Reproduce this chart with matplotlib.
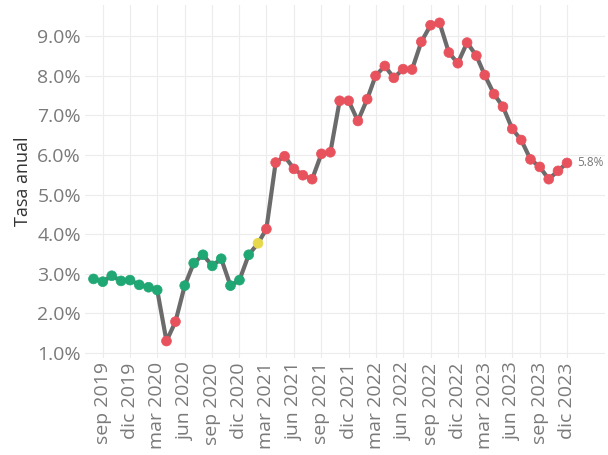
import matplotlib.pyplot as plt
import numpy as np
import pandas as pd

plt.rcParams["font.family"] = ["Open Sans", "DejaVu Sans"]

# monthly annual inflation, aug 2019 - dec 2023
months = pd.date_range("2019-08-01", "2023-12-01", freq="MS")
rate = [
    2.87, 2.80, 2.95, 2.82, 2.84,
    2.72, 2.66, 2.59, 1.30, 1.79, 2.70, 3.27, 3.48, 3.20, 3.38, 2.70, 2.84,
    3.48, 3.77, 4.13, 5.81, 5.97, 5.65, 5.49, 5.39, 6.03, 6.07, 7.37, 7.37,
    6.86, 7.41, 8.00, 8.25, 7.95, 8.17, 8.16, 8.86, 9.28, 9.34, 8.59, 8.32,
    8.84, 8.51, 8.02, 7.54, 7.22, 6.66, 6.38, 5.89, 5.70, 5.39, 5.60, 5.80,
]
# g = within target range, y = near upper limit, r = outside range
status = (
    ["g"] * 8 + ["r"] * 2 + ["g"] * 8 + ["y"] + ["r"] * 34
)
palette = {"g": "#1fa774", "y": "#e6d84a", "r": "#e8525d"}
colors = [palette[s] for s in status]

tick_dates = pd.date_range("2019-09-01", "2023-12-01", freq="3MS")
month_es = {3: "mar", 6: "jun", 9: "sep", 12: "dic"}
tick_labels = [f"{month_es[d.month]} {d.year}" for d in tick_dates]

fig = plt.figure(figsize=(6.08, 4.55), dpi=100)
ax = fig.add_axes([0.14, 0.213, 0.855, 0.776])

ax.plot(months, rate, color="#6b6b6b", lw=3.0, zorder=2, solid_capstyle="round")
ax.scatter(months, rate, c=colors, s=50, zorder=3, edgecolors=colors, linewidths=0.5)

ax.annotate(f"{rate[-1]:.1f}%", (months[-1], rate[-1]), xytext=(7, 0),
            textcoords="offset points", va="center", ha="left",
            fontsize=8.5, color="#777777")

ax.set_xticks(tick_dates)
ax.set_xticklabels(tick_labels, rotation=90)
ax.set_xlim(pd.Timestamp("2019-07-04"), pd.Timestamp("2024-04-06"))
ax.set_ylim(0.87, 9.79)
ax.set_yticks(np.arange(1, 10))
ax.yaxis.set_major_formatter(plt.FuncFormatter(lambda v, p: f"{v:.1f}%"))

ax.grid(True, color="#ececec", lw=0.8)
ax.set_axisbelow(True)
for s in ax.spines.values():
    s.set_visible(False)
ax.tick_params(length=0, labelsize=14, labelcolor="#7a7a7a", pad=3)
ax.set_ylabel("Tasa anual", fontsize=13, color="#333333", labelpad=4)

fig.savefig("out.png", dpi=100)
